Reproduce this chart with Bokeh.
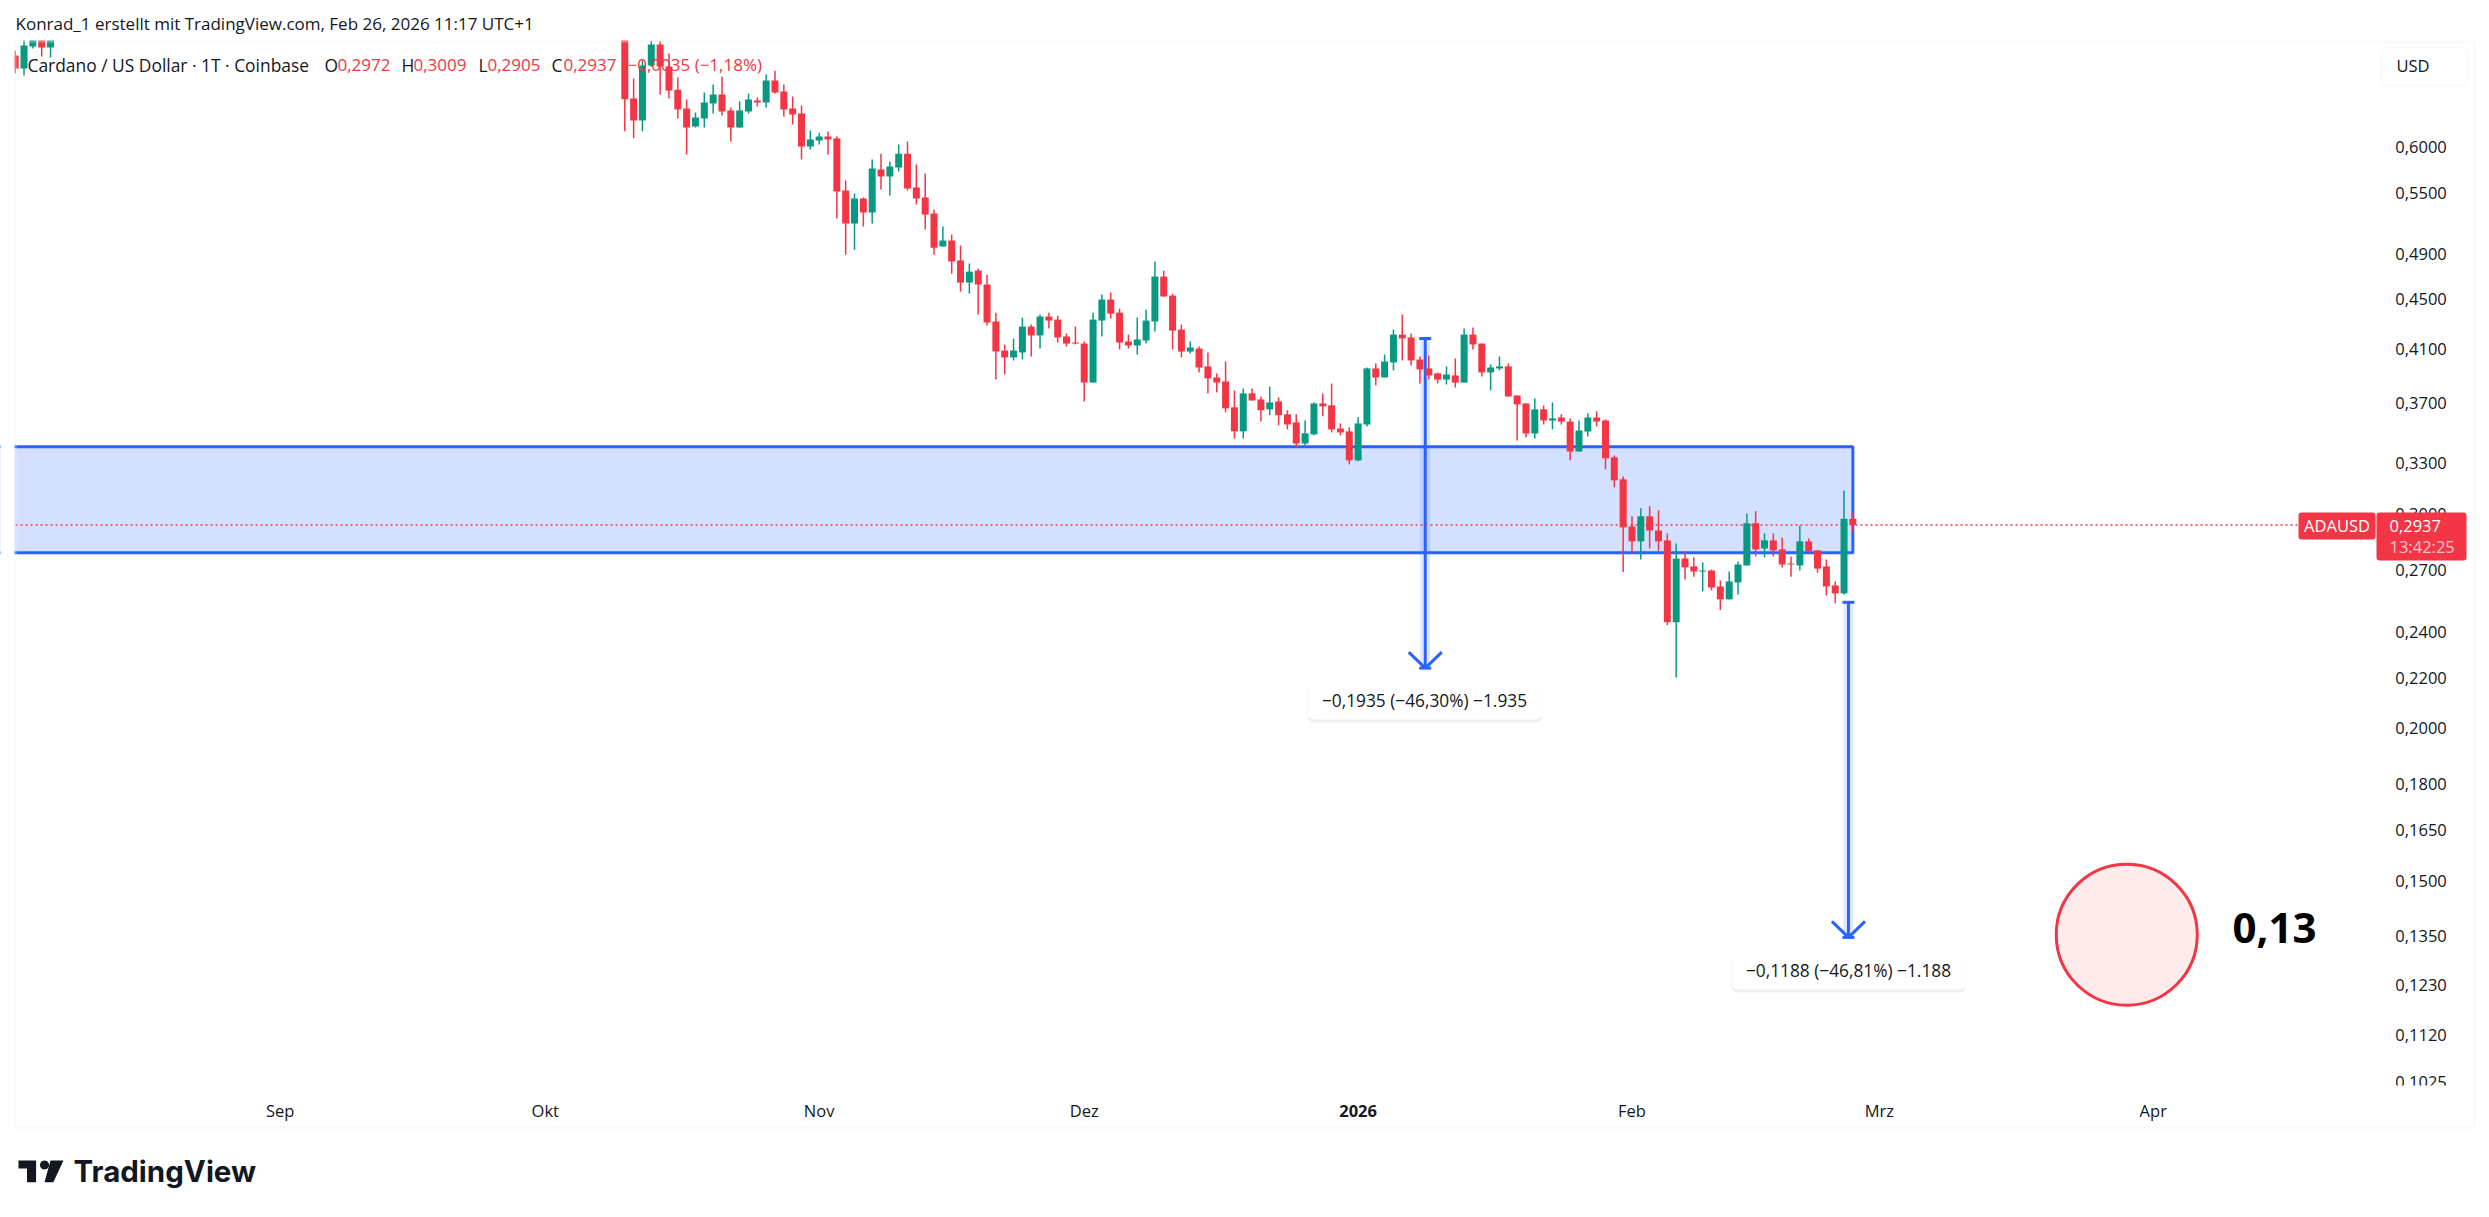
import numpy as np
import pandas as pd
from bokeh.embed import file_html
from bokeh.models import BoxAnnotation, FixedTicker, Label, PolyAnnotation, Range1d
from bokeh.plotting import figure
from bokeh.resources import INLINE

# daily candles that are still inside the pane top left (Aug 2025)
early_start = "2025-08-02"
early_open = [0.7135, 0.6961, 0.7257, 0.7500, 0.7244]
early_high = [0.7200, 0.7350, 0.7550, 0.7600, 0.7550]
early_low = [0.6900, 0.6870, 0.7230, 0.7122, 0.7108]
early_close = [0.6961, 0.7271, 0.7450, 0.7244, 0.7450]

# daily candles from 2025-10-10 to 2026-02-26
main_start = "2025-10-10"
main_open = [
    0.7800, 0.6578, 0.6310, 0.7000, 0.7284, 0.6987, 0.6689, 0.6455, 0.6238, 0.6334,
    0.6516, 0.6627, 0.6431, 0.6226, 0.6419, 0.6553, 0.6528, 0.6805, 0.6665, 0.6455,
    0.6395, 0.6007, 0.6076, 0.6122, 0.6099, 0.5527, 0.5193, 0.5445, 0.5302, 0.5751,
    0.5676, 0.5773, 0.5927, 0.5559, 0.5455, 0.5292, 0.4972, 0.5029, 0.4843, 0.4645,
    0.4751, 0.4628, 0.4315, 0.4085, 0.4032, 0.4070, 0.4274, 0.4203, 0.4356, 0.4331,
    0.4195, 0.4147, 0.4139, 0.3845, 0.4323, 0.4498, 0.4388, 0.4155, 0.4124, 0.4163,
    0.4315, 0.4698, 0.4532, 0.4250, 0.4077, 0.4100, 0.3964, 0.3882, 0.3853, 0.3669,
    0.3506, 0.3767, 0.3724, 0.3655, 0.3710, 0.3621, 0.3566, 0.3426, 0.3486, 0.3696,
    0.3683, 0.3525, 0.3506, 0.3319, 0.3552, 0.3949, 0.3882, 0.3994, 0.4210, 0.4187,
    0.4016, 0.3949, 0.3912, 0.3867, 0.3897, 0.3845, 0.4210, 0.4139, 0.3919, 0.3949,
    0.3964, 0.3752, 0.3696, 0.3492, 0.3655, 0.3579, 0.3599, 0.3572, 0.3375, 0.3505,
    0.3599, 0.3579, 0.3338, 0.3202, 0.2929, 0.2848, 0.2986, 0.2907, 0.2853, 0.2444,
    0.2757, 0.2716, 0.2690, 0.2695, 0.2615, 0.2552, 0.2635, 0.2721, 0.2947, 0.2810,
    0.2853, 0.2805, 0.2731, 0.2721, 0.2848, 0.2800, 0.2716, 0.2620, 0.2581, 0.2972,
]
main_high = [
    0.7850, 0.6831, 0.7067, 0.7340, 0.7330, 0.7161, 0.6844, 0.6566, 0.6407, 0.6652,
    0.6754, 0.6856, 0.6467, 0.6541, 0.6640, 0.6591, 0.6882, 0.6933, 0.6754, 0.6603,
    0.6491, 0.6191, 0.6167, 0.6179, 0.6122, 0.5633, 0.5497, 0.5455, 0.5861, 0.5927,
    0.5839, 0.6030, 0.6065, 0.5806, 0.5708, 0.5332, 0.5164, 0.5086, 0.4981, 0.4815,
    0.4769, 0.4715, 0.4388, 0.4132, 0.4179, 0.4347, 0.4290, 0.4372, 0.4388, 0.4364,
    0.4219, 0.4274, 0.4155, 0.4388, 0.4541, 0.4558, 0.4421, 0.4210, 0.4348, 0.4413,
    0.4833, 0.4751, 0.4549, 0.4290, 0.4155, 0.4116, 0.4070, 0.3912, 0.4001, 0.3788,
    0.3802, 0.3802, 0.3745, 0.3816, 0.3738, 0.3649, 0.3621, 0.3579, 0.3703, 0.3767,
    0.3838, 0.3559, 0.3532, 0.3601, 0.3956, 0.3986, 0.4054, 0.4250, 0.4372, 0.4218,
    0.4039, 0.4047, 0.3919, 0.3964, 0.4024, 0.4258, 0.4266, 0.4139, 0.3979, 0.4039,
    0.3986, 0.3752, 0.3696, 0.3731, 0.3682, 0.3703, 0.3622, 0.3593, 0.3579, 0.3629,
    0.3642, 0.3586, 0.3350, 0.3220, 0.2986, 0.3032, 0.3043, 0.3020, 0.2891, 0.2837,
    0.2795, 0.2763, 0.2737, 0.2700, 0.2645, 0.2690, 0.2742, 0.3002, 0.3015, 0.2891,
    0.2891, 0.2869, 0.2768, 0.2935, 0.2864, 0.2800, 0.2752, 0.2640, 0.3135, 0.3009,
]
main_low = [
    0.6183, 0.6103, 0.6183, 0.6985, 0.6627, 0.6578, 0.6334, 0.5916, 0.6226, 0.6226,
    0.6395, 0.6371, 0.6065, 0.6226, 0.6395, 0.6479, 0.6467, 0.6640, 0.6359, 0.6262,
    0.5861, 0.5973, 0.6030, 0.5916, 0.5243, 0.4896, 0.4943, 0.5164, 0.5193, 0.5538,
    0.5476, 0.5730, 0.5527, 0.5383, 0.5135, 0.4896, 0.4972, 0.4724, 0.4566, 0.4549,
    0.4372, 0.4282, 0.3867, 0.3904, 0.4009, 0.4017, 0.4040, 0.4101, 0.4258, 0.4147,
    0.4116, 0.4132, 0.3710, 0.3845, 0.4194, 0.4339, 0.4093, 0.4100, 0.4054, 0.4139,
    0.4234, 0.4524, 0.4093, 0.4032, 0.4062, 0.3919, 0.3767, 0.3774, 0.3635, 0.3459,
    0.3459, 0.3717, 0.3572, 0.3615, 0.3546, 0.3519, 0.3402, 0.3414, 0.3479, 0.3608,
    0.3499, 0.3479, 0.3294, 0.3313, 0.3539, 0.3824, 0.3882, 0.3934, 0.4009, 0.3971,
    0.3838, 0.3867, 0.3838, 0.3831, 0.3809, 0.3845, 0.4093, 0.3889, 0.3788, 0.3934,
    0.3745, 0.3446, 0.3466, 0.3459, 0.3552, 0.3519, 0.3552, 0.3319, 0.3375, 0.3472,
    0.3539, 0.3263, 0.3154, 0.2687, 0.2783, 0.2752, 0.2810, 0.2794, 0.2431, 0.2202,
    0.2650, 0.2664, 0.2591, 0.2596, 0.2501, 0.2552, 0.2576, 0.2721, 0.2768, 0.2763,
    0.2768, 0.2711, 0.2664, 0.2695, 0.2789, 0.2684, 0.2571, 0.2533, 0.2576, 0.2905,
]
main_close = [
    0.6570, 0.6310, 0.7000, 0.7284, 0.6987, 0.6677, 0.6443, 0.6226, 0.6347, 0.6528,
    0.6627, 0.6419, 0.6226, 0.6431, 0.6566, 0.6528, 0.6805, 0.6652, 0.6443, 0.6383,
    0.6007, 0.6088, 0.6122, 0.6088, 0.5517, 0.5193, 0.5445, 0.5302, 0.5762, 0.5676,
    0.5784, 0.5927, 0.5548, 0.5445, 0.5282, 0.4962, 0.5029, 0.4834, 0.4645, 0.4742,
    0.4628, 0.4307, 0.4078, 0.4032, 0.4085, 0.4274, 0.4203, 0.4356, 0.4323, 0.4187,
    0.4139, 0.4139, 0.3845, 0.4331, 0.4498, 0.4380, 0.4147, 0.4124, 0.4171, 0.4323,
    0.4698, 0.4524, 0.4242, 0.4077, 0.4108, 0.3956, 0.3875, 0.3845, 0.3662, 0.3506,
    0.3767, 0.3717, 0.3649, 0.3703, 0.3615, 0.3552, 0.3426, 0.3493, 0.3696, 0.3676,
    0.3519, 0.3499, 0.3319, 0.3559, 0.3949, 0.3882, 0.4001, 0.4210, 0.4179, 0.4009,
    0.3942, 0.3897, 0.3867, 0.3904, 0.3845, 0.4210, 0.4132, 0.3919, 0.3956, 0.3964,
    0.3745, 0.3689, 0.3492, 0.3655, 0.3579, 0.3593, 0.3572, 0.3375, 0.3512, 0.3599,
    0.3572, 0.3332, 0.3196, 0.2924, 0.2848, 0.2986, 0.2907, 0.2848, 0.2444, 0.2757,
    0.2711, 0.2690, 0.2695, 0.2610, 0.2552, 0.2640, 0.2726, 0.2947, 0.2805, 0.2853,
    0.2800, 0.2726, 0.2726, 0.2848, 0.2795, 0.2705, 0.2615, 0.2581, 0.2972, 0.2937,
]

last_price = 0.2937
zone_top = 0.3405
zone_bottom = 0.2787
zone_start = "2025-07-01"
zone_end = "2026-02-26"

# measure tool arrows: anchor day (days after 2025-10-10), start and end price
arrow_day = [90.6, 138.5]
arrow_from = [0.4179, 0.2538]
arrow_to = [0.2241, 0.1347]
target_date = "2026-03-29"
target_price = 0.1354

price_ticks = [0.6, 0.55, 0.49, 0.45, 0.41, 0.37, 0.33, 0.30, 0.27, 0.24, 0.22, 0.20,
               0.18, 0.165, 0.15, 0.135, 0.123, 0.112, 0.1025]
month_starts = ["2025-09-01", "2025-10-01", "2025-11-01", "2025-12-01", "2026-01-01",
                "2026-02-01", "2026-03-01", "2026-04-01"]
month_labels = ["Sep", "Okt", "Nov", "Dez", "", "Feb", "Mrz", "Apr"]

UP = "#089981"
DOWN = "#f23645"
BLUE = "#2962ff"
INK = "#131722"
FONT = "Open Sans"

W, H = 2480, 1210
PX_PER_DAY = 8.835
PX_PER_LN = 529.0
pane_left, pane_right = -68.96, 198.25
pane_bottom = 0.1018

epoch = pd.Timestamp(main_start)


def day_no(d):
    return (pd.Timestamp(d) - epoch).days


early_days = [day_no(early_start) + i for i in range(len(early_open))]
main_days = list(range(len(main_open)))
days = np.array(early_days + main_days, dtype=float)
opens = np.array(early_open + main_open)
highs = np.array(early_high + main_high)
lows = np.array(early_low + main_low)
closes = np.array(early_close + main_close)
colors = [UP if c >= o else DOWN for o, c in zip(opens, closes)]

# the frame takes the whole canvas, header and footer are painted over it
p = figure(
    width=W,
    height=H,
    x_range=Range1d(-624.3 / PX_PER_DAY, (W - 624.3) / PX_PER_DAY),
    y_range=Range1d(0.15 * np.exp((880 - H) / PX_PER_LN), 0.15 * np.exp(880 / PX_PER_LN)),
    y_axis_type="log",
    y_axis_location="right",
    output_backend="svg",
    toolbar_location=None,
    background_fill_color="white",
    border_fill_color="white",
    outline_line_color=None,
    min_border=0,
)
p.grid.visible = False

p.yaxis.ticker = FixedTicker(ticks=price_ticks)
p.yaxis.major_label_overrides = {t: f"{t:.4f}".replace(".", ",") for t in price_ticks}
p.yaxis.fixed_location = pane_right
p.xaxis.ticker = FixedTicker(ticks=[day_no(d) for d in month_starts])
p.xaxis.major_label_overrides = {day_no(d): l for d, l in zip(month_starts, month_labels)}
p.xaxis.fixed_location = pane_bottom
for ax in (p.xaxis, p.yaxis):
    ax.axis_line_color = None
    ax.major_tick_line_color = None
    ax.minor_tick_line_color = None
    ax.major_label_text_font = FONT
    ax.major_label_text_font_size = "16.5px"
    ax.major_label_text_color = INK
p.yaxis.major_label_standoff = 13
p.xaxis.major_label_standoff = 7

# --- drawings under the candles ---
p.quad(
    left=[day_no(zone_start)], right=[day_no(zone_end)], top=[zone_top], bottom=[zone_bottom],
    fill_color=BLUE, fill_alpha=0.2, line_color=BLUE, line_width=3,
)
band = 10 / PX_PER_DAY
head_dx = 1.87
cap_dx = 0.68
head_dy = np.exp(16 / PX_PER_LN)
for d, a, b in zip(arrow_day, arrow_from, arrow_to):
    p.vbar(x=[d], top=[a], bottom=[b], width=band, fill_color=BLUE, fill_alpha=0.14, line_color=None)
    p.segment([d], [a], [d], [b], line_color=BLUE, line_width=3)
    p.segment([d - cap_dx], [a], [d + cap_dx], [a], line_color=BLUE, line_width=3)
    p.segment([d - cap_dx], [b], [d + cap_dx], [b], line_color=BLUE, line_width=3)
    p.segment([d - head_dx, d + head_dx], [b * head_dy] * 2, [d, d], [b, b], line_color=BLUE, line_width=3)

p.line([pane_left, pane_right], [last_price, last_price], line_color=DOWN, line_width=1.4, line_dash=[2, 3])

# --- candles ---
p.segment(days, highs, days, lows, line_color=colors, line_width=1.5)
p.vbar(x=days, top=np.maximum(opens, closes), bottom=np.minimum(opens, closes), width=7 / PX_PER_DAY,
       fill_color=colors, line_color=None)

# --- forecast circle ---
p.scatter([day_no(target_date)], [target_price], size=141, marker="circle",
          fill_color=DOWN, fill_alpha=0.1, line_color=DOWN, line_width=3)


def box(l, r, t, b, **kw):
    kw.setdefault("fill_alpha", 1)
    p.add_layout(BoxAnnotation(left=l, right=r, top=t, bottom=b, left_units="canvas", right_units="canvas",
                               top_units="canvas", bottom_units="canvas", **kw))


def text(x, y, s, size=16.5, color=INK, align="left", style="normal", font=FONT):
    p.add_layout(Label(x=x, y=y, x_units="canvas", y_units="canvas", text=s, text_font=font,
                       text_font_size=f"{size}px", text_color=color, text_align=align,
                       text_baseline="middle", text_font_style=style))


# white margins hide what runs off the pane
box(0, W, 0, 40, fill_color="white", line_color=None)
box(0, 14, 0, H, fill_color="white", line_color=None)
box(0, W, 1128, H, fill_color="white", line_color=None)
# hides the lower part of the last price label like the pane does
box(2380, 2470, 1085, 1096, fill_color="white", line_color=None)
# pane frame
box(15, 2474, 41, 1127, fill_color=None, line_color="#eef0f4", line_width=2.5)

text(15, 23, "Konrad_1 erstellt mit TradingView.com, Feb 26, 2026 11:17 UTC+1", size=17)

# legend row
text(27, 64, "Cardano / US Dollar · 1T · Coinbase", size=17.4)
for lx, letter, vx, val in zip([324, 401, 478, 551], "OHLC", [337, 413, 487, 563],
                               ["0,2972", "0,3009", "0,2905", "0,2937"]):
    text(lx, 64, letter, size=17.4)
    text(vx, 64, val, color=DOWN, size=17)
text(627, 64, "−0,0035 (−1,18%)", color=DOWN, size=17)

# currency button
box(2381, 2467, 47, 85, fill_color="white", line_color="#e9ecf2", line_width=1.5, border_radius=6)
text(2396, 65, "USD")

text(day_no("2026-01-01") * PX_PER_DAY + 624.3, 1110, "2026", align="center", style="bold")

# price tags
box(2298, 2375, 512, 539, fill_color=DOWN, line_color=None, border_radius=3)
box(2376, 2466, 512, 560, fill_color=DOWN, line_color=None, border_radius=3)
text(2336.5, 525, "ADAUSD", color="white", align="center")
text(2389, 525, "0,2937", color="white")
text(2389, 546, "13:42:25", color="#fbc5ca")

# measure labels
for cx, cy, s in zip([1424, 1848], [700, 970], ["−0,1935 (−46,30%) −1.935", "−0,1188 (−46,81%) −1.188"]):
    box(cx - 117, cx + 117, cy - 17, cy + 22, fill_color="#e3e5ea", fill_alpha=0.6, line_color=None, border_radius=6)
    box(cx - 117, cx + 117, cy - 18, cy + 19, fill_color="white", line_color=None, border_radius=6)
    text(cx, cy, s, align="center", size=17.3)

text(2232, 927, "0,13", size=42, color="#000000", style="bold")

# logo
logo_t_x = [18, 35.6, 35.6, 26.5, 26.5, 18]
logo_t_y = [1160, 1160, 1181.7, 1181.7, 1168, 1168]
logo_s_x = [50, 63, 52.8, 44]
logo_s_y = [1160, 1160, 1181.7, 1181.7]
angles = np.linspace(0, 2 * np.pi, 24, endpoint=False)
logo_c_x = list(44 + 4.5 * np.cos(angles))
logo_c_y = list(1164.5 + 4.5 * np.sin(angles))
for xs, ys in ((logo_t_x, logo_t_y), (logo_s_x, logo_s_y), (logo_c_x, logo_c_y)):
    p.add_layout(PolyAnnotation(xs=xs, ys=ys, xs_units="canvas", ys_units="canvas",
                                fill_color=INK, fill_alpha=1, line_color=None))
text(73, 1170, "TradingView", size=29.5, style="bold", font="Inter")

open("out.html", "w").write(file_html(p, INLINE))
